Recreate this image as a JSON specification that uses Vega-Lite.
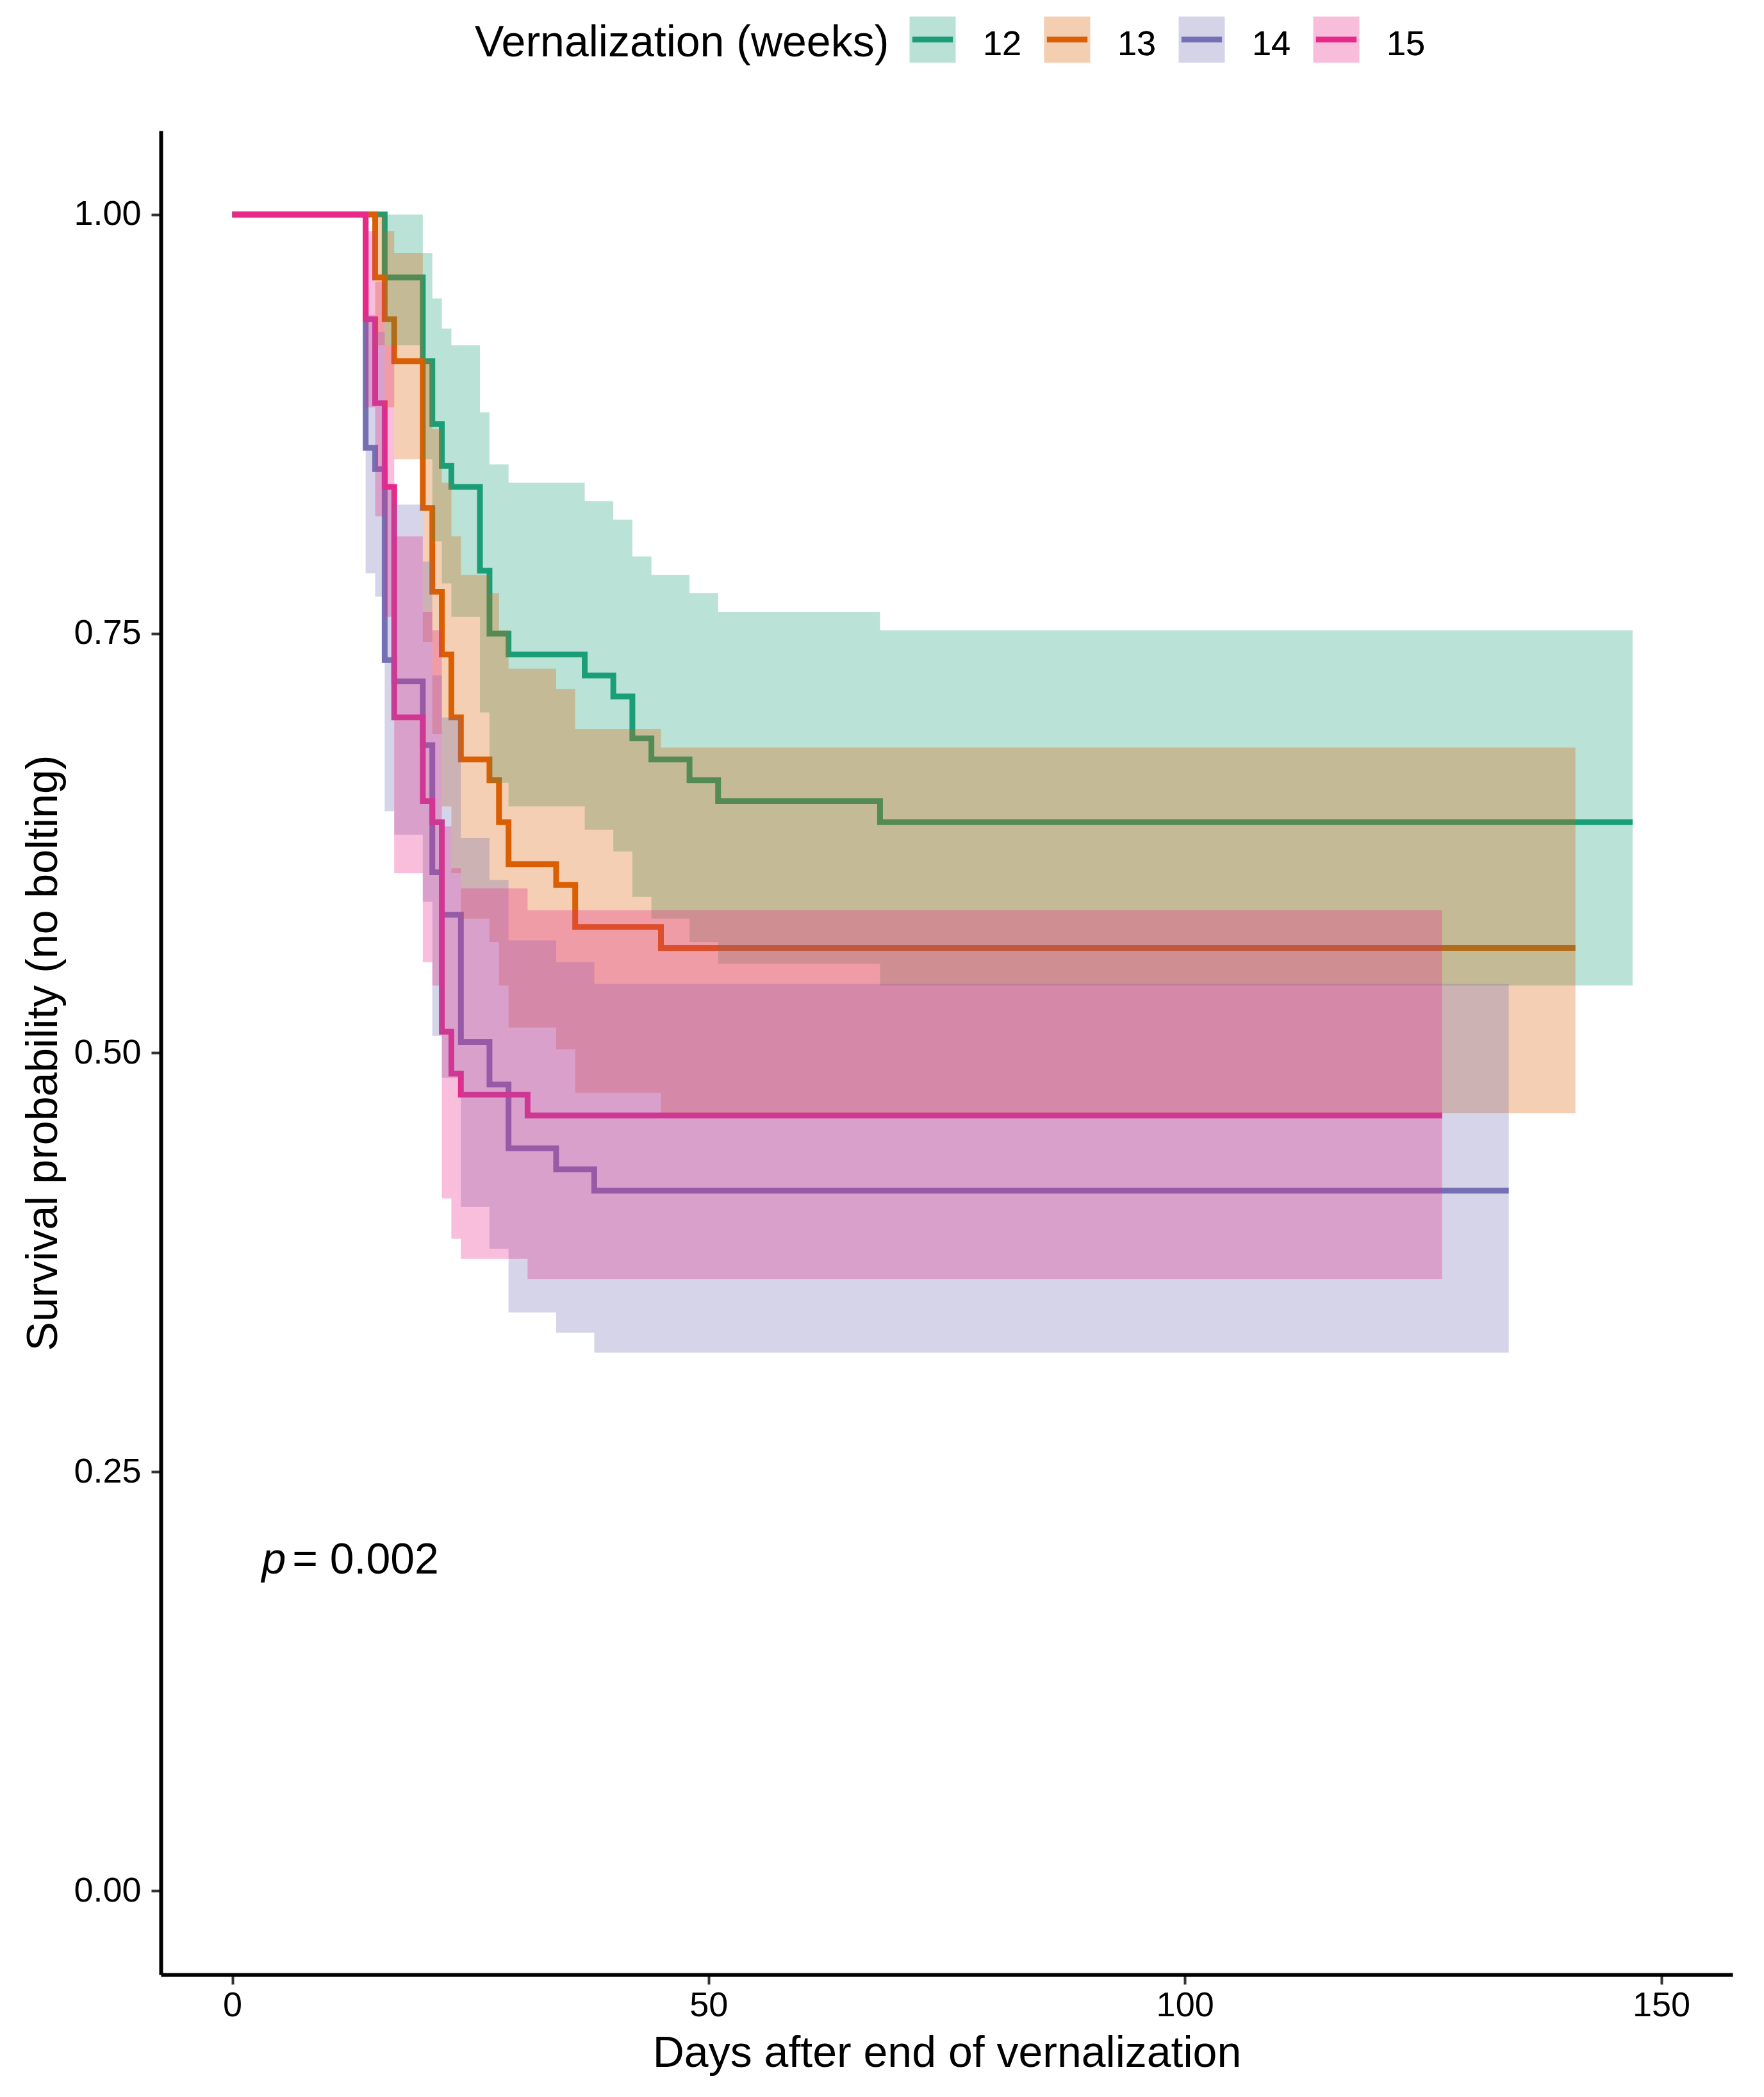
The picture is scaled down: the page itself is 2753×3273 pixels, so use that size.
{
  "$schema": "https://vega.github.io/schema/vega-lite/v6.json",
  "width": 2453,
  "height": 2878,
  "autosize": {"type": "none"},
  "padding": {"left": 251, "top": 204, "right": 49, "bottom": 191},
  "background": "white",
  "datasets": {
    "km": [
      {"g": "12", "t": 0, "s": 1, "lo": 1, "hi": 1},
      {"g": "12", "t": 16, "s": 0.9625, "lo": 0.922, "hi": 1},
      {"g": "12", "t": 20, "s": 0.9125, "lo": 0.854, "hi": 0.977},
      {"g": "12", "t": 21, "s": 0.875, "lo": 0.805, "hi": 0.95},
      {"g": "12", "t": 22, "s": 0.85, "lo": 0.78, "hi": 0.932},
      {"g": "12", "t": 23, "s": 0.8375, "lo": 0.76, "hi": 0.922},
      {"g": "12", "t": 26, "s": 0.7875, "lo": 0.703, "hi": 0.882},
      {"g": "12", "t": 27, "s": 0.75, "lo": 0.661, "hi": 0.851},
      {"g": "12", "t": 29, "s": 0.7375, "lo": 0.647, "hi": 0.84},
      {"g": "12", "t": 37, "s": 0.725, "lo": 0.633, "hi": 0.829},
      {"g": "12", "t": 40, "s": 0.7125, "lo": 0.62, "hi": 0.818},
      {"g": "12", "t": 42, "s": 0.6875, "lo": 0.593, "hi": 0.796},
      {"g": "12", "t": 44, "s": 0.675, "lo": 0.58, "hi": 0.785},
      {"g": "12", "t": 48, "s": 0.6625, "lo": 0.566, "hi": 0.774},
      {"g": "12", "t": 51, "s": 0.65, "lo": 0.553, "hi": 0.763},
      {"g": "12", "t": 68, "s": 0.6375, "lo": 0.54, "hi": 0.752},
      {"g": "12", "t": 147, "s": 0.6375, "lo": 0.54, "hi": 0.752},
      {"g": "13", "t": 0, "s": 1, "lo": 1, "hi": 1},
      {"g": "13", "t": 15, "s": 0.9625, "lo": 0.922, "hi": 1},
      {"g": "13", "t": 16, "s": 0.9375, "lo": 0.885, "hi": 0.99},
      {"g": "13", "t": 17, "s": 0.9125, "lo": 0.854, "hi": 0.977},
      {"g": "13", "t": 20, "s": 0.825, "lo": 0.745, "hi": 0.913},
      {"g": "13", "t": 21, "s": 0.775, "lo": 0.69, "hi": 0.872},
      {"g": "13", "t": 22, "s": 0.7375, "lo": 0.647, "hi": 0.84},
      {"g": "13", "t": 23, "s": 0.7, "lo": 0.607, "hi": 0.808},
      {"g": "13", "t": 24, "s": 0.675, "lo": 0.58, "hi": 0.785},
      {"g": "13", "t": 27, "s": 0.6625, "lo": 0.566, "hi": 0.774},
      {"g": "13", "t": 28, "s": 0.6375, "lo": 0.54, "hi": 0.752},
      {"g": "13", "t": 29, "s": 0.6125, "lo": 0.515, "hi": 0.729},
      {"g": "13", "t": 34, "s": 0.6, "lo": 0.502, "hi": 0.717},
      {"g": "13", "t": 36, "s": 0.575, "lo": 0.476, "hi": 0.693},
      {"g": "13", "t": 45, "s": 0.5625, "lo": 0.464, "hi": 0.682},
      {"g": "13", "t": 141, "s": 0.5625, "lo": 0.464, "hi": 0.682},
      {"g": "14", "t": 0, "s": 1, "lo": 1, "hi": 1},
      {"g": "14", "t": 14, "s": 0.8608, "lo": 0.786, "hi": 0.94},
      {"g": "14", "t": 15, "s": 0.8481, "lo": 0.772, "hi": 0.93},
      {"g": "14", "t": 16, "s": 0.7342, "lo": 0.644, "hi": 0.836},
      {"g": "14", "t": 17, "s": 0.7215, "lo": 0.63, "hi": 0.827},
      {"g": "14", "t": 20, "s": 0.6835, "lo": 0.59, "hi": 0.793},
      {"g": "14", "t": 21, "s": 0.6076, "lo": 0.51, "hi": 0.725},
      {"g": "14", "t": 22, "s": 0.5823, "lo": 0.485, "hi": 0.7},
      {"g": "14", "t": 24, "s": 0.5063, "lo": 0.408, "hi": 0.628},
      {"g": "14", "t": 27, "s": 0.481, "lo": 0.383, "hi": 0.603},
      {"g": "14", "t": 29, "s": 0.443, "lo": 0.345, "hi": 0.567},
      {"g": "14", "t": 34, "s": 0.4304, "lo": 0.333, "hi": 0.554},
      {"g": "14", "t": 38, "s": 0.4177, "lo": 0.321, "hi": 0.541},
      {"g": "14", "t": 134, "s": 0.4177, "lo": 0.321, "hi": 0.541},
      {"g": "15", "t": 0, "s": 1, "lo": 1, "hi": 1},
      {"g": "15", "t": 14, "s": 0.9375, "lo": 0.885, "hi": 0.99},
      {"g": "15", "t": 15, "s": 0.8875, "lo": 0.82, "hi": 0.96},
      {"g": "15", "t": 16, "s": 0.8375, "lo": 0.76, "hi": 0.922},
      {"g": "15", "t": 17, "s": 0.7, "lo": 0.607, "hi": 0.808},
      {"g": "15", "t": 20, "s": 0.65, "lo": 0.554, "hi": 0.763},
      {"g": "15", "t": 21, "s": 0.6375, "lo": 0.54, "hi": 0.752},
      {"g": "15", "t": 22, "s": 0.5125, "lo": 0.413, "hi": 0.635},
      {"g": "15", "t": 23, "s": 0.4875, "lo": 0.389, "hi": 0.61},
      {"g": "15", "t": 24, "s": 0.475, "lo": 0.377, "hi": 0.598},
      {"g": "15", "t": 31, "s": 0.4625, "lo": 0.365, "hi": 0.585},
      {"g": "15", "t": 127, "s": 0.4625, "lo": 0.365, "hi": 0.585}
    ],
    "pv_p": [{"x": 3.1, "y": 0.1894, "label": "p"}],
    "pv_rest": [{"x": 6.3, "y": 0.1894, "label": "= 0.002"}]
  },
  "layer": [
    {
      "data": {"name": "km"},
      "mark": {"type": "line", "interpolate": "step-after", "strokeWidth": 9},
      "encoding": {
        "x": {
          "field": "t", "type": "quantitative",
          "scale": {"domain": [-7.5, 157.5], "nice": false, "zero": false},
          "axis": {"values": [0, 50, 100, 150], "labelPadding": 6, "titleY": 143, "titleBaseline": "alphabetic"},
          "title": "Days after end of vernalization"
        },
        "y": {
          "field": "s", "type": "quantitative",
          "scale": {"domain": [-0.05, 1.05], "nice": false, "zero": false},
          "axis": {"values": [0, 0.25, 0.5, 0.75, 1], "format": ".2f", "labelPadding": 16, "titleX": -163, "titleBaseline": "alphabetic"},
          "title": "Survival probability (no bolting)"
        },
        "stroke": {
          "field": "g", "type": "nominal",
          "scale": {"domain": ["12", "13", "14", "15"], "range": ["#1B9E77", "#D95F02", "#7570B3", "#E7298A"]},
          "legend": {
            "title": "Vernalization (weeks)",
            "orient": "none", "legendX": 490, "legendY": -183,
            "direction": "horizontal", "columns": 4, "padding": 0,
            "titleOrient": "left", "titleAnchor": "middle", "titleBaseline": "middle", "titlePadding": 27,
            "titleLimit": 2000, "titleOpacity": 0,
            "labelOffset": 38, "columnPadding": 16,
            "symbolType": "M-1,-1M1,1M-0.88,0H0.88", "symbolSize": 5184, "symbolStrokeWidth": 9,
            "symbolFillColor": "transparent", "symbolOpacity": 1,
            "encode": {"labels": {"update": {"dy": {"value": 8}}}}
          }
        }
      }
    },
    {
      "data": {"name": "km"},
      "mark": {"type": "area", "interpolate": "step-after", "fillOpacity": 0.3},
      "encoding": {
        "x": {"field": "t", "type": "quantitative", "title": "Days after end of vernalization"},
        "y": {"field": "hi", "type": "quantitative", "stack": null, "title": "Survival probability (no bolting)"},
        "y2": {"field": "lo"},
        "fill": {
          "field": "g", "type": "nominal",
          "scale": {"range": ["#1B9E77", "#D95F02", "#7570B3", "#E7298A"]},
          "legend": {
            "title": "Vernalization (weeks)",
            "orient": "none", "legendX": 490, "legendY": -183,
            "direction": "horizontal", "columns": 4, "padding": 0,
            "titleOrient": "left", "titleAnchor": "middle", "titleBaseline": "middle", "titlePadding": 27,
            "titleLimit": 2000,
            "labelOffset": 38, "columnPadding": 16,
            "symbolType": "square", "symbolSize": 5184, "symbolStrokeWidth": 9,
            "symbolStrokeColor": "transparent", "symbolOpacity": 0.3,
            "encode": {"labels": {"update": {"dy": {"value": 8}}}}
          }
        }
      }
    },
    {
      "data": {"name": "pv_p"},
      "mark": {"type": "text", "align": "left", "baseline": "alphabetic", "fontSize": 68, "font": "Liberation Sans", "fontStyle": "italic", "color": "black"},
      "encoding": {
        "x": {"field": "x", "type": "quantitative"},
        "y": {"field": "y", "type": "quantitative"},
        "text": {"field": "label"}
      }
    },
    {
      "data": {"name": "pv_rest"},
      "mark": {"type": "text", "align": "left", "baseline": "alphabetic", "fontSize": 68, "font": "Liberation Sans", "color": "black"},
      "encoding": {
        "x": {"field": "x", "type": "quantitative"},
        "y": {"field": "y", "type": "quantitative"},
        "text": {"field": "label"}
      }
    }
  ],
  "config": {
    "view": {"stroke": null},
    "font": "Liberation Sans",
    "axis": {
      "grid": false,
      "domainColor": "black",
      "domainWidth": 6,
      "tickColor": "#333333",
      "tickWidth": 4,
      "tickSize": 15,
      "labelFont": "Liberation Sans",
      "labelFontSize": 54,
      "labelColor": "black",
      "titleFont": "Liberation Sans",
      "titleFontSize": 68,
      "titleFontWeight": "normal",
      "titleColor": "black"
    },
    "legend": {
      "titleFont": "Liberation Sans",
      "titleFontSize": 68,
      "titleFontWeight": "normal",
      "titleColor": "black",
      "labelFont": "Liberation Sans",
      "labelFontSize": 54,
      "labelColor": "black"
    }
  }
}
